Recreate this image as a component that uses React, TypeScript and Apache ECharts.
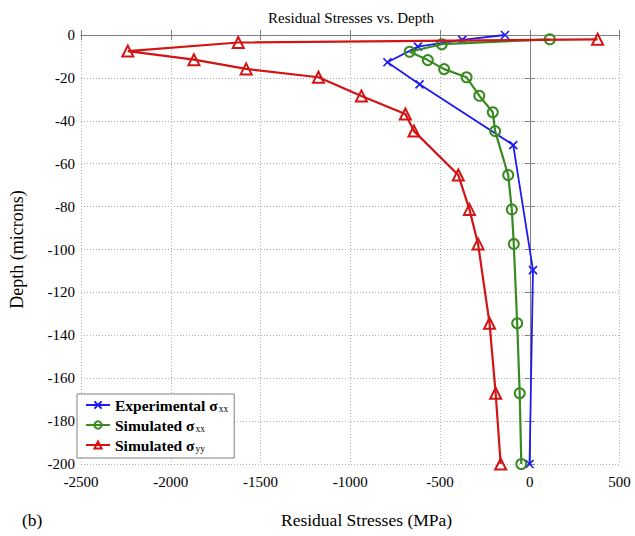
import React, { useEffect, useRef } from "react";
import * as echarts from "echarts";

const xTicks = [-2500, -2000, -1500, -1000, -500, 0, 500];
const yTicks = [0, -20, -40, -60, -80, -100, -120, -140, -160, -180, -200];

const expStress = [-138, -376, -623, -793, -614, -92, 18, -1];
const expDepth = [0, -2.3, -5.4, -12.7, -23, -51.3, -109.6, -200];

const simXXStress = [112, -490, -669, -568, -477, -352, -281, -206, -193, -120, -100, -89, -70, -56, -47];
const simXXDepth = [-2, -4.3, -7.8, -11.7, -15.9, -19.7, -28.3, -36, -44.8, -65.3, -81.3, -97.4, -134.4, -167, -200];

const simYYStress = [378, -1624, -2239, -1871, -1580, -1177, -938, -693, -645, -398, -336, -288, -224, -190, -162];
const simYYDepth = [-2, -3.5, -7.5, -11.5, -15.8, -19.7, -28.4, -36.8, -44.8, -65.3, -81.3, -97.4, -134.4, -167, -200];

const seriesNames = ["Experimental", "SimulatedXX", "SimulatedYY"];
const legendLabels: Record<string, [string, string]> = {
  Experimental: ["Experimental σ", "xx"],
  SimulatedXX: ["Simulated σ", "xx"],
  SimulatedYY: ["Simulated σ", "yy"],
};

const SERIF = "'Liberation Serif', 'Times New Roman', serif";
const BLUE = "#1c1cf0";
const GREEN = "#3a8a22";
const RED = "#d21414";

function pairs(xs: number[], ys: number[]) {
  return xs.map((x, i) => [x, ys[i]]);
}

export default function App() {
  const ref = useRef<HTMLDivElement>(null);
  useEffect(() => {
    if (!ref.current) return;
    const chart = echarts.init(ref.current, undefined, { renderer: "svg" });
    const gridLine = { show: true, lineStyle: { color: "#b0b0b0", type: [1, 2] as any, width: 1 } };
    const frame = { show: true, lineStyle: { color: "#808080", width: 1 } };
    const tick = { show: true, inside: true, length: 5, lineStyle: { color: "#808080" } };
    const tickLabel = {
      color: "#000",
      fontFamily: SERIF,
      fontSize: 15,
      formatter: (v: number) => String(v),
    };
    chart.setOption({
      animation: false,
      backgroundColor: "#fff",
      textStyle: { fontFamily: SERIF },
      grid: { left: 73, right: 15.5, top: 35, bottom: 72, containLabel: false },
      xAxis: [
        {
          type: "value",
          min: xTicks[0],
          max: xTicks[xTicks.length - 1],
          interval: 500,
          position: "bottom",
          axisLine: frame,
          axisTick: tick,
          splitLine: gridLine,
          axisLabel: { ...tickLabel, margin: 10 },
        },
        {
          type: "value",
          min: xTicks[0],
          max: xTicks[xTicks.length - 1],
          interval: 500,
          position: "top",
          axisLine: frame,
          axisTick: tick,
          splitLine: { show: false },
          axisLabel: { show: false },
        },
      ],
      yAxis: [
        {
          type: "value",
          min: yTicks[yTicks.length - 1],
          max: yTicks[0],
          interval: 20,
          position: "left",
          axisLine: frame,
          axisTick: tick,
          splitLine: gridLine,
          axisLabel: { ...tickLabel, margin: 6 },
          name: "Depth (microns)",
          nameLocation: "middle",
          nameGap: 55,
          nameTextStyle: { color: "#000", fontFamily: SERIF, fontSize: 18 },
        },
        {
          type: "value",
          min: yTicks[yTicks.length - 1],
          max: yTicks[0],
          interval: 20,
          position: "right",
          axisLine: frame,
          axisTick: tick,
          splitLine: { show: false },
          axisLabel: { show: false },
        },
      ],
      title: {
        text: "Residual Stresses vs. Depth",
        left: 346,
        top: 5,
        textAlign: "center",
        textStyle: { color: "#000", fontFamily: SERIF, fontSize: 15, fontWeight: "normal" },
      },
      legend: {
        orient: "vertical",
        left: 77,
        top: 394,
        data: seriesNames,
        backgroundColor: "#fff",
        borderColor: "#808080",
        borderWidth: 1,
        borderRadius: 0,
        padding: [3, 6, 4, 8],
        itemWidth: 24,
        itemHeight: 9,
        itemGap: 3,
        formatter: (name: string) => {
          const l = legendLabels[name];
          return `{a|${l[0]}}{s|${l[1]}}`;
        },
        textStyle: {
          color: "#000",
          fontFamily: SERIF,
          rich: {
            a: { fontFamily: SERIF, fontSize: 15.5, fontWeight: "bold", color: "#000" },
            s: { fontFamily: SERIF, fontSize: 9.5, color: "#000", padding: [8, 0, 0, 1] },
          },
        },
      },
      graphic: [
        {
          type: "text",
          left: 367 - 86,
          top: 511,
          style: { text: "Residual Stresses (MPa)", fontFamily: SERIF, fontSize: 17.5, fill: "#000" },
        },
        {
          type: "text",
          left: 22,
          top: 511,
          style: { text: "(b)", fontFamily: SERIF, fontSize: 17.5, fill: "#000" },
        },
      ],
      series: [
        {
          name: seriesNames[0],
          type: "line",
          data: pairs(expStress, expDepth),
          lineStyle: { color: BLUE, width: 1.8 },
          symbol: "path://M0,0L10,10M10,0L0,10",
          symbolSize: 8,
          itemStyle: { color: BLUE, borderColor: BLUE, borderWidth: 1.7 },
          z: 3,
        },
        {
          name: seriesNames[1],
          type: "line",
          data: pairs(simXXStress, simXXDepth),
          lineStyle: { color: GREEN, width: 2.2 },
          symbol: "circle",
          symbolSize: 10,
          itemStyle: { color: "rgba(0,0,0,0)", borderColor: GREEN, borderWidth: 2 },
          z: 4,
        },
        {
          name: seriesNames[2],
          type: "line",
          data: pairs(simYYStress, simYYDepth),
          lineStyle: { color: RED, width: 2.2 },
          symbol: "triangle",
          symbolSize: 11,
          itemStyle: { color: "rgba(0,0,0,0)", borderColor: RED, borderWidth: 2 },
          z: 5,
        },
      ],
    });
    return () => chart.dispose();
  }, []);
  return <div ref={ref} style={{ width: 635, height: 536, position: "absolute", left: 0, top: 0 }} />;
}
